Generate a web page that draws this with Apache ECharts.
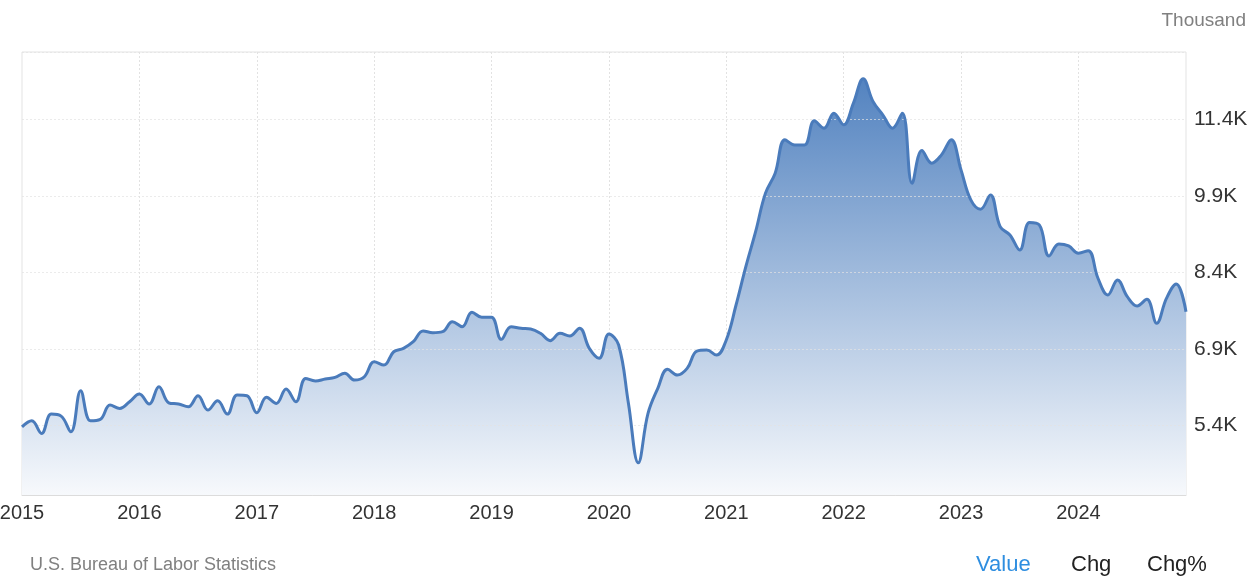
<!DOCTYPE html>
<html>
<head>
<meta charset="utf-8">
<script src="https://cdn.jsdelivr.net/npm/echarts@6/dist/echarts.min.js"></script>
<style>
  html, body { margin: 0; padding: 0; background: #ffffff; }
  #chart { width: 1252px; height: 586px; }
</style>
</head>
<body>
<div id="chart"></div>
<script>
// ---- data ----
const years = ['2015','2016','2017','2018','2019','2020','2021','2022','2023','2024'];
const monthNums = ['01','02','03','04','05','06','07','08','09','10','11','12'];
const categories = [];
years.forEach(y => monthNums.forEach(m => categories.push(y + '-' + m)));

const values2015 = [5376, 5494, 5247, 5625, 5586, 5279, 6083, 5494, 5521, 5802, 5737, 5867];
const values2016 = [6018, 5822, 6161, 5847, 5822, 5769, 5985, 5704, 5886, 5625, 6000, 5985];
const values2017 = [5651, 5953, 5835, 6116, 5867, 6325, 6273, 6312, 6345, 6424, 6292, 6357];
const values2018 = [6651, 6586, 6847, 6914, 7043, 7253, 7220, 7240, 7436, 7338, 7620, 7522];
const values2019 = [7522, 7090, 7338, 7306, 7292, 7208, 7063, 7208, 7155, 7306, 6914, 6718];
const values2020 = [7194, 6979, 5835, 4671, 5639, 6129, 6502, 6390, 6521, 6861, 6881, 6783];
const values2021 = [7077, 7763, 8514, 9200, 9950, 10346, 11000, 10900, 10900, 11371, 11228, 11522];
const values2022 = [11293, 11718, 12195, 11751, 11490, 11228, 11522, 10149, 10790, 10542, 10705, 11000];
const values2023 = [10410, 9822, 9640, 9920, 9299, 9136, 8842, 9378, 9332, 8724, 8959, 8920];
const values2024 = [8777, 8828, 8287, 7959, 8253, 7926, 7743, 7874, 7404, 7893, 8175, 7632];
const values = [].concat(values2015, values2016, values2017, values2018, values2019,
                         values2020, values2021, values2022, values2023, values2024);

const yTicks = [5400, 6900, 8400, 9900, 11400];
const yMin = 4040;
const yMax = 12720;

// ---- chart ----
const chart = echarts.init(document.getElementById('chart'), null, { renderer: 'canvas' });
const FONT = '"Liberation Sans", Arial, sans-serif';

chart.setOption({
  animation: false,
  grid: {
    left: 22, right: 66, top: 52, bottom: 91,
    containLabel: false, outerBoundsMode: 'none',
    show: true, borderColor: '#e3e3e3', borderWidth: 1
  },
  xAxis: {
    type: 'category',
    data: categories,
    boundaryGap: false,
    axisLine: { show: true, lineStyle: { color: '#dcdcdc', width: 1 } },
    axisTick: { show: false },
    axisLabel: {
      interval: (i) => i % 12 === 0,
      formatter: (v) => v.slice(0, 4),
      color: '#333333',
      fontSize: 20,
      fontFamily: FONT,
      margin: 8
    },
    splitLine: {
      show: true,
      interval: (i) => i % 12 === 0 && i > 0,
      lineStyle: { color: '#e2e2e2', type: [2, 2], width: 1 }
    }
  },
  yAxis: {
    type: 'value',
    position: 'right',
    min: yMin,
    max: yMax,
    axisLine: { show: false },
    axisTick: { show: false },
    splitLine: { show: false },
    axisLabel: {
      customValues: yTicks,
      formatter: (v) => (v / 1000).toFixed(1) + 'K',
      color: '#333333',
      fontSize: 21,
      fontFamily: FONT,
      margin: 8
    }
  },
  series: [{
    name: 'area',
    type: 'line',
    data: values,
    smooth: 0.4,
    symbol: 'none',
    z: 2,
    lineStyle: { width: 0, opacity: 0 },
    areaStyle: {
      opacity: 1,
      color: {
        type: 'linear', x: 0, y: 0, x2: 0, y2: 1,
        colorStops: [
          { offset: 0, color: '#5383c0' },
          { offset: 1, color: '#f7f9fc' }
        ]
      }
    },
    markLine: {
      silent: true,
      symbol: 'none',
      label: { show: false },
      lineStyle: { color: '#e2e2e2', type: [2, 2], width: 1, opacity: 0.7 },
      data: yTicks.map(v => ({ yAxis: v })).concat([{ yAxis: yMax }])
    }
  }, {
    name: 'line',
    type: 'line',
    data: values,
    smooth: 0.4,
    symbol: 'none',
    z: 5,
    lineStyle: { color: '#4a7bbb', width: 3 }
  }],
  graphic: [
    { type: 'text', right: 6, top: 11, style: { text: 'Thousand', fill: '#808080', font: '19px ' + FONT } },
    { type: 'text', left: 30, top: 556, style: { text: 'U.S. Bureau of Labor Statistics', fill: '#808080', font: '18px ' + FONT } },
    { type: 'text', left: 976, top: 554, style: { text: 'Value', fill: '#2e8ee0', font: '22px ' + FONT } },
    { type: 'text', left: 1071, top: 554, style: { text: 'Chg', fill: '#222222', font: '22px ' + FONT } },
    { type: 'text', left: 1147, top: 554, style: { text: 'Chg%', fill: '#222222', font: '22px ' + FONT } }
  ]
});
</script>
</body>
</html>
